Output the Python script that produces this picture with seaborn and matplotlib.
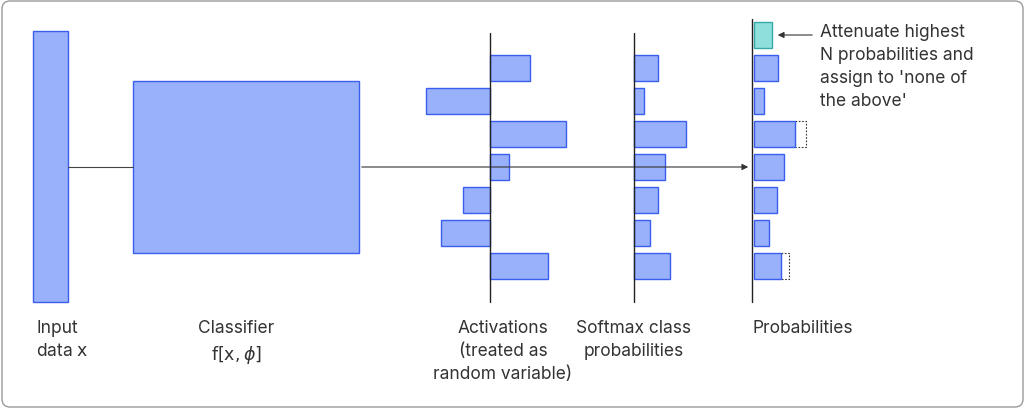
import matplotlib.pyplot as plt
from matplotlib.patches import FancyBboxPatch, Rectangle
import seaborn as sns

sns.set_style("white")
plt.rcParams["font.family"] = ["Inter", "DejaVu Sans"]

FILL = "#99b1fb"
EDGE = "#3a5ef0"

# bar rows (pixel y-centres) and lengths for each column
rows = [69, 102, 135, 168, 201, 234, 267]
activations = [40, -64, 76, 19, -27, -49, 58]
softmax = [24, 10, 52, 31, 24, 16, 36]
probabilities = [24, 10, 41, 30, 23, 15, 27]
before_attenuate = [24, 10, 52, 30, 23, 15, 35]
none_of_above = 18

labels = ["Input\ndata $\\mathrm{x}$", "Classifier\n$\\mathrm{f}[\\mathrm{x},\\phi]$",
          "Activations\n(treated as\nrandom variable)", "Softmax class\nprobabilities",
          "Probabilities"]
note = "Attenuate highest\nN probabilities and\nassign to 'none of\nthe above'"

fig = plt.figure(figsize=(10.25, 4.1), dpi=100)
ax = fig.add_axes([0, 0, 1, 1])
ax.set_xlim(0, 1025)
ax.set_ylim(410, 0)
ax.axis("off")

ax.add_patch(FancyBboxPatch((2, 2), 1021, 406, boxstyle="round,pad=0,rounding_size=8",
                            fill=False, ec="#9a9a9a", lw=1))

# input and classifier blocks
ax.add_patch(Rectangle((33, 32), 35, 271, fc=FILL, ec=EDGE, lw=1))
ax.add_patch(Rectangle((133, 82), 226, 172, fc=FILL, ec=EDGE, lw=1))
ax.plot([68, 133], [168, 168], color="#444", lw=0.8)
ax.annotate("", xy=(751, 168), xytext=(359, 168),
            arrowprops=dict(arrowstyle="-|>", color="#333", lw=0.8, mutation_scale=9))

# bar columns
for x0, vals, top in [(490, activations, 34), (634, softmax, 34), (752, probabilities, 20)]:
    ax.plot([x0, x0], [top, 303], color="#222", lw=1, zorder=3)
    ax.barh(rows, vals, left=x0 if x0 != 752 else 754, height=26,
            color=FILL, edgecolor=EDGE, lw=1, zorder=2)

# dotted ghost of the attenuated bars
for y, p, b in zip(rows, probabilities, before_attenuate):
    if b > p:
        ax.barh(y, b - p, left=754 + p, height=26, fill=False,
                edgecolor="#333", lw=0.8, ls=(0, (1.5, 1.5)), zorder=1)

ax.barh(36, none_of_above, left=754, height=26, color="#8fe0dc", edgecolor="#35aaa6", lw=1)
ax.annotate("", xy=(775, 36), xytext=(815, 36),
            arrowprops=dict(arrowstyle="-|>", color="#333", lw=0.8, mutation_scale=9))
ax.text(820, 24, note, fontsize=12.5, color="#333", va="top", ha="left", linespacing=1.45)

# captions
kw = dict(fontsize=12.5, color="#333", va="top", linespacing=1.45)
ax.text(36, 320, labels[0], ha="left", **kw)
ax.text(236, 320, labels[1], ha="center", **kw)
ax.text(503, 320, labels[2], ha="center", **kw)
ax.text(634, 320, labels[3], ha="center", **kw)
ax.text(752, 320, labels[4], ha="left", **kw)

fig.savefig("out.png", dpi=100)
